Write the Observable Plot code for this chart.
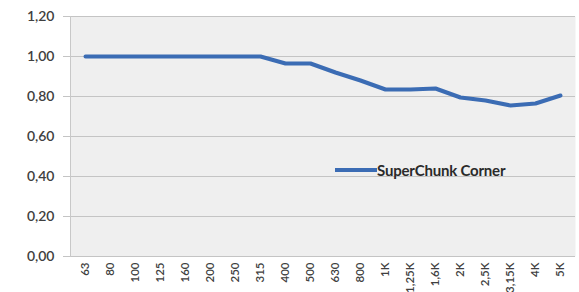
<!DOCTYPE html>
<html>
<head>
<meta charset="utf-8">
<script src="https://cdn.jsdelivr.net/npm/d3@7"></script>
<script src="https://cdn.jsdelivr.net/npm/@observablehq/plot@0.6"></script>
<style>
  html, body { margin: 0; padding: 0; background: #fff; }
  #chart { position: relative; width: 579px; height: 292px; overflow: hidden; font-family: Lato, "Open Sans", sans-serif; }
  #legend { position: absolute; left: 335px; top: 161px; height: 18px; display: flex; align-items: center; font-size: 15px; font-weight: bold; color: #2a2a2a; letter-spacing: -0.2px; }
  #legend .sw { width: 42px; height: 4px; background: #3b6cb4; }
</style>
</head>
<body>
<div id="chart"><div id="legend"><span class="sw"></span><span>SuperChunk Corner</span></div></div>
<script>
const categories = ["63","80","100","125","160","200","250","315","400","500","630","800","1K","1,25K","1,6K","2K","2,5K","3,15K","4K","5K"];
const values = [1.00,1.00,1.00,1.00,1.00,1.00,1.00,1.00,0.965,0.965,0.92,0.88,0.835,0.835,0.84,0.795,0.78,0.755,0.765,0.805];
const seriesName = "SuperChunk Corner";
const yTicks = [0, 0.2, 0.4, 0.6, 0.8, 1.0, 1.2];

const data = categories.map((c, i) => ({cat: c, value: values[i], series: seriesName}));
const fmt = v => d3.format(".2f")(v).replace(".", ",");

const chart = Plot.plot({
  width: 579,
  height: 292,
  marginLeft: 70,
  marginRight: 4,
  marginTop: 16,
  marginBottom: 36,
  style: {fontFamily: "Lato, 'Open Sans', sans-serif", fontSize: "13px", color: "#404040", background: "transparent", overflow: "visible"},
  x: {type: "point", domain: categories, label: null},
  y: {domain: [0, 1.2], label: null},
  marks: [
    Plot.frame({fill: "#efefef", stroke: null}),
    Plot.ruleY(yTicks, {stroke: "#c4c4c4", strokeWidth: 1}),
    Plot.frame({anchor: "left", stroke: "#c8c8c8"}),
    Plot.axisY({ticks: yTicks, tickFormat: fmt, tickSize: 7, tickPadding: 9, stroke: "#c4c4c4", fill: "#404040", fontSize: 14, fontWeight: 600}),
    Plot.axisX({tickRotate: -90, tickSize: 0, tickPadding: 6, fill: "#404040", fontSize: 11.5, fontWeight: 600}),
    Plot.line(data, {x: "cat", y: "value", stroke: "#3b6cb4", strokeWidth: 4, strokeLinejoin: "round"})
  ]
});
document.getElementById("chart").prepend(chart);
</script>
</body>
</html>
